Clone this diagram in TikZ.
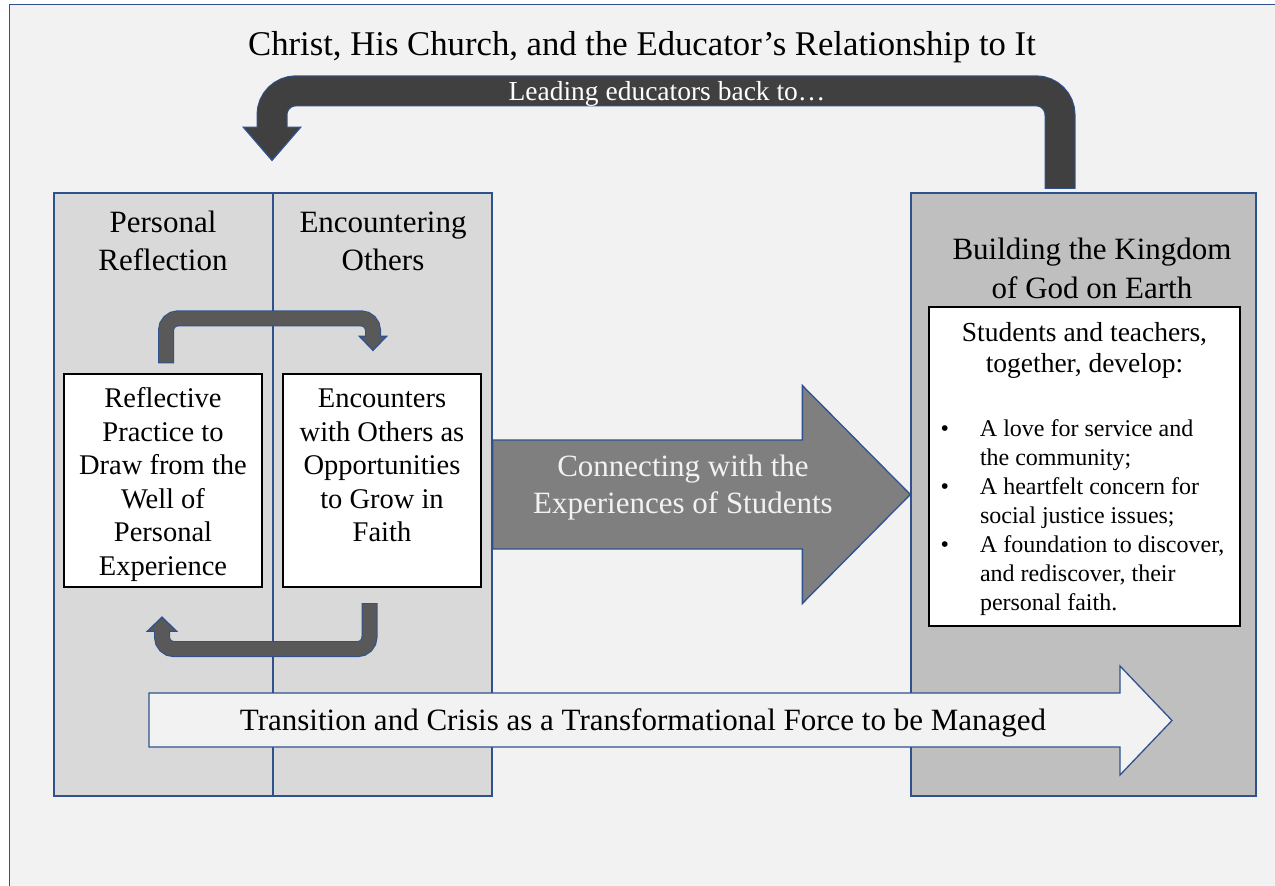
\documentclass[tikz,border=0pt]{standalone}
\usepackage{fontspec}
\setmainfont{Liberation Serif}
\usetikzlibrary{calc}

\definecolor{pagebg}{HTML}{F2F2F2}
\definecolor{edgeblue}{HTML}{2F528F}
\definecolor{leftgray}{HTML}{D9D9D9}
\definecolor{rightgray}{HTML}{BFBFBF}
\definecolor{loopgray}{HTML}{595959}
\definecolor{leadgray}{HTML}{404040}
\definecolor{midgray}{HTML}{7F7F7F}

\newcommand{\fs}[2]{\fontsize{#1}{#2}\selectfont}
% top aligned text in the two small boxes
\newcommand{\boxlines}[1]{\parbox[c][213pt][t]{198pt}{\centering\fs{28.5}{33.5}\vspace{10.5pt}\strut#1}}
% one bullet of the list on the right
\newcommand{\bitem}[1]{\noindent\llap{\textbullet\hspace{31pt}}#1\par}

\tikzset{
  panel/.style={draw=edgeblue, line width=1.3pt, inner sep=0pt},
  headtext/.style={align=center, font=\fs{31}{38}},
  textbox/.style={draw=black, fill=white, line width=1.3pt, inner sep=0pt},
  edge/.style={draw=edgeblue, line width=1.3pt},
}

\begin{document}
\begin{tikzpicture}[x=1pt, y=-1pt]
\useasboundingbox (0,0) rectangle (1275,886);
\fill[white] (0,0) rectangle (1275,886);
\fill[pagebg] (9.5,4.5) rectangle (1275,886);
% outer frame, cut off at right and bottom
\draw[edgeblue, line width=1.5pt] (9.5,886) -- (9.5,4.5) -- (1275,4.5);

\node[font=\fs{34.7}{40}] (title) at (642,47) {Christ, His Church, and the Educator’s Relationship to It};

%% panels
\node[panel, fill=leftgray, minimum width=438pt, minimum height=603pt] (lpanel) at (273,494.5) {};
\draw[edgeblue, line width=1.3pt] (lpanel.north) -- (lpanel.south);
\node[panel, fill=rightgray, minimum width=345pt, minimum height=603pt] (rpanel) at (1083.5,494.5) {};

\node[headtext] (reflhead) at (163,241) {Personal\\Reflection};
\node[headtext] (enchead) at (383,241) {Encountering\\Others};
\node[headtext, font=\fs{31}{39}] (kinghead) at (1092,268) {Building the Kingdom\\of God on Earth};

%% small boxes
\node[textbox] (refl) at (163,480.5) {\boxlines{Reflective\\Practice to\\Draw from the\\Well of\\Personal\\Experience}};
\node[textbox] (enc) at (382,480.5) {\boxlines{Encounters\\with Others as\\Opportunities\\to Grow in\\Faith}};

%% loop arrow, upper
\coordinate (loopA) at ($(refl.north)+(3,-11)$);
\coordinate (loopAtip) at ($(enc.north)+(-9,-23)$);
\filldraw[edge, fill=loopgray] ($(loopAtip)+(-13.5,-14)$) -- ($(loopAtip)+(13.5,-14)$) -- (loopAtip) -- cycle;
\draw[edgeblue, line width=16pt, rounded corners=12pt, shorten <=-1pt] (loopA) |- ($(loopAtip)+(0,-32)$) -- ($(loopAtip)+(0,-14)$);
\draw[loopgray, line width=14pt, rounded corners=12pt, shorten >=-1.5pt] (loopA) |- ($(loopAtip)+(0,-32)$) -- ($(loopAtip)+(0,-14)$);

%% loop arrow, lower
\coordinate (loopB) at ($(enc.south)+(-12.5,16.5)$);
\coordinate (loopBtip) at ($(refl.south)+(-1,29.5)$);
\filldraw[edge, fill=loopgray] ($(loopBtip)+(-14.5,14)$) -- ($(loopBtip)+(14.5,14)$) -- (loopBtip) -- cycle;
\draw[edgeblue, line width=16pt, rounded corners=12pt, shorten <=-1pt] (loopB) |- ($(loopBtip)+(0,32)$) -- ($(loopBtip)+(0,14)$);
\draw[loopgray, line width=14pt, rounded corners=12pt, shorten >=-1.5pt] (loopB) |- ($(loopBtip)+(0,32)$) -- ($(loopBtip)+(0,14)$);

%% connecting arrow
\filldraw[edge, fill=midgray] ($(lpanel.east)+(0,-54.5)$) -- ($(rpanel.west)+(-108,-54.5)$)
  -- ($(rpanel.west)+(-108,-109)$) -- (rpanel.west) -- ($(rpanel.west)+(-108,109)$)
  -- ($(rpanel.west)+(-108,54.5)$) -- ($(lpanel.east)+(0,54.5)$) -- cycle;
\node[font=\fs{31}{37}, text=pagebg, align=center] (conntext) at (683,487.5) {Connecting with the\\Experiences of Students};

%% list on the right
\node[textbox] (devbox) at (1084.5,466.5) {\parbox[c][319pt][t]{311pt}{%
  {\centering\fs{27.5}{31}\vspace{13pt}\strut Students and teachers,\\together, develop:\par}
  \fs{24}{29}\raggedright\leftskip=51pt
  \vspace{35pt}
  \bitem{A love for service and\\the community;}
  \bitem{A heartfelt concern for\\social justice issues;}
  \bitem{A foundation to discover,\\and rediscover, their\\personal faith.}}};

%% transition arrow
\filldraw[edge, fill=pagebg] (149,693) -- (1120,693) -- (1120,666) -- (1172,720.5)
  -- (1120,775) -- (1120,747) -- (149,747) -- cycle;
\node[font=\fs{31}{37}] (transtext) at (643,723) {Transition and Crisis as a Transformational Force to be Managed};

%% leading arrow back to the left panel
\coordinate (leadA) at ($(rpanel.north)+(-23.5,-4.5)$);
\coordinate (leadtip) at ($(lpanel.north)+(-1,-32)$);
\filldraw[edge, fill=leadgray] ($(leadtip)+(-28.5,-33)$) -- ($(leadtip)+(28.5,-33)$) -- (leadtip) -- cycle;
\draw[edgeblue, line width=31pt, rounded corners=24pt, shorten <=-1pt] (leadA) |- ($(leadtip)+(0,-69.5)$) -- ($(leadtip)+(0,-33)$);
\draw[leadgray, line width=29pt, rounded corners=24pt, shorten >=-1.5pt] (leadA) |- ($(leadtip)+(0,-69.5)$) -- ($(leadtip)+(0,-33)$);
\node[font=\fs{27.5}{32}, text=white] (leadtext) at (667,94) {Leading educators back to…};

\end{tikzpicture}
\end{document}
